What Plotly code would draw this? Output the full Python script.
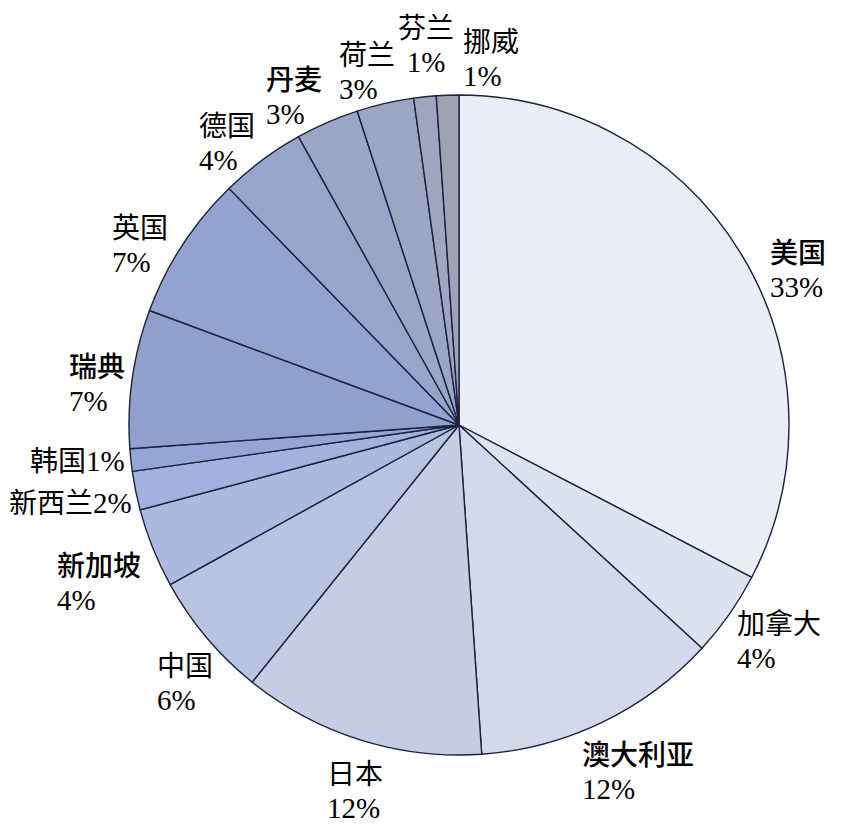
import math

import plotly.graph_objects as go

countries = ["美国", "加拿大", "澳大利亚", "日本", "中国", "新加坡", "新西兰", "韩国",
             "瑞典", "英国", "德国", "丹麦", "荷兰", "芬兰", "挪威"]
shares = [32.7, 4.2, 12.1, 11.9, 6.2, 3.9, 1.9, 1.1, 6.8, 7.1, 4.2, 3.1, 2.8, 1.1, 1.1]
pct_labels = ["33%", "4%", "12%", "12%", "6%", "4%", "2%", "1%",
              "7%", "7%", "4%", "3%", "3%", "1%", "1%"]

colors = ["#E9EDF6", "#DDE2EF", "#D3D9EA", "#C6CDE3", "#B9C3E0", "#ADBAE0", "#A2B1DD", "#95A6D6",
          "#8FA0CD", "#93A3CF", "#97A5CB", "#9AA6C6", "#9CA6C1", "#9EA5BC", "#9FA2B3"]

# label placement: (xanchor, yanchor, xshift, yshift, heavier, one line, align)
label_style = [
    ("left", "middle", 27, -13, True, False, "left"),
    ("left", "middle", 6, -24, False, False, "left"),
    ("left", "top", -22, -9, True, False, "left"),
    ("left", "top", -35, -10, False, False, "left"),
    ("right", "top", 9, -5, False, False, "left"),
    ("right", "top", -10, 6, True, False, "left"),
    ("right", "middle", -2, -10, False, True, "left"),
    ("right", "middle", -4, 1, False, True, "left"),
    ("right", "middle", -5, -2, True, False, "left"),
    ("right", "middle", -12, 3, False, False, "left"),
    ("right", "bottom", -5, -18, False, False, "left"),
    ("right", "bottom", -3, -10, True, False, "left"),
    ("right", "bottom", 12, -4, False, False, "left"),
    ("center", "bottom", 1, 17, False, False, "center"),
    ("left", "bottom", 13, 1, False, False, "left"),
]

fig = go.Figure(go.Pie(
    labels=countries,
    values=shares,
    sort=False,
    direction="clockwise",
    rotation=0,
    textinfo="none",
    hoverinfo="label+percent",
    marker=dict(colors=colors, line=dict(color="#1b2140", width=1.4)),
    showlegend=False,
))

total = sum(shares)
cum = 0
annotations = []
for name, v, pct, st in zip(countries, shares, pct_labels, label_style):
    mid = math.radians(360 * (cum + v / 2) / total)
    cum += v
    xa, ya, dx, dy, heavy, oneline, align = st
    weight = "font-weight:500;" if heavy else ""
    cn = f"<span style='font-family:Noto Sans CJK SC;font-size:28px;{weight}'>{name}</span>"
    pc = f"<span style='font-family:Liberation Serif;font-size:29px'>{pct}</span>"
    text = cn + pc if oneline else cn + "<br>" + pc
    annotations.append(dict(
        x=0.5 + 0.5 * math.sin(mid), y=0.5 + 0.5 * math.cos(mid),
        xref="paper", yref="paper", text=text, showarrow=False,
        xanchor=xa, yanchor=ya, xshift=dx, yshift=dy, align=align,
        font=dict(family="Liberation Serif", size=26, color="black"),
    ))

fig.update_layout(
    width=855, height=831,
    margin=dict(l=129, r=66, t=95, b=76),
    paper_bgcolor="white",
    annotations=annotations,
)

fig.write_html("out.html", config={"displayModeBar": False},
               post_script="document.body.style.margin = '0';")
